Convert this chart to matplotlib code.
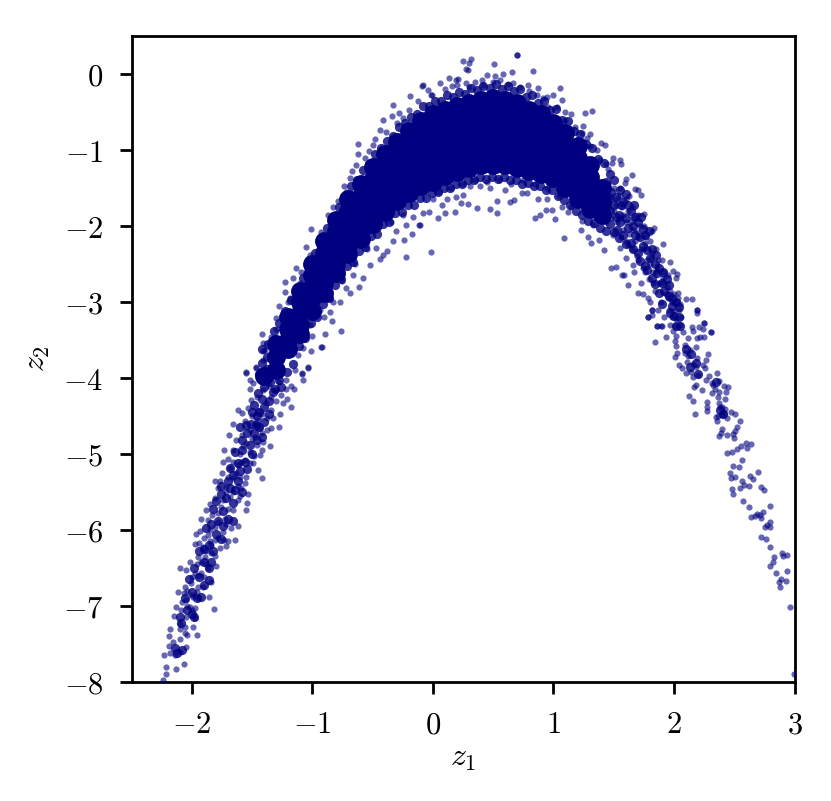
import numpy as np
import matplotlib
matplotlib.use('Agg')
import matplotlib.pyplot as plt

plt.rcParams['mathtext.fontset'] = 'cm'
plt.rcParams['font.size'] = 11

x_ticks = [-2, -1, 0, 1, 2, 3]
y_ticks = [0, -1, -2, -3, -4, -5, -6, -7, -8]

# solid middle of the band, read per z1 column
core_z1 = [-1.4, -1.3, -1.2, -1.1, -1.0, -0.9, -0.8, -0.7, -0.6, -0.5, -0.4, -0.3, -0.2, -0.1,
           0.0, 0.1, 0.2, 0.3, 0.4, 0.5, 0.6, 0.7, 0.8, 0.9, 1.0, 1.1, 1.2, 1.3, 1.4]
core_z2 = [
    [-3.98],
    [-3.55, -3.72, -3.9],
    [-3.2, -3.35, -3.5, -3.62],
    [-2.85, -3.0, -3.15, -3.3, -3.42],
    [-2.5, -2.65, -2.8, -2.95, -3.12],
    [-2.2, -2.35, -2.5, -2.65, -2.75, -2.88],
    [-1.92, -2.07, -2.22, -2.37, -2.5, -2.62],
    [-1.65, -1.8, -1.95, -2.1, -2.25, -2.37],
    [-1.45, -1.6, -1.75, -1.9, -2.05, -2.17],
    [-1.23, -1.38, -1.53, -1.68, -1.83, -1.97],
    [-1.05, -1.2, -1.35, -1.5, -1.65, -1.82],
    [-0.9, -1.05, -1.2, -1.35, -1.5, -1.67],
    [-0.75, -0.9, -1.05, -1.2, -1.35, -1.5, -1.57],
    [-0.62, -0.77, -0.92, -1.07, -1.22, -1.37, -1.47],
    [-0.52, -0.67, -0.82, -0.97, -1.12, -1.27, -1.42],
    [-0.47, -0.62, -0.77, -0.92, -1.07, -1.22, -1.34],
    [-0.42, -0.57, -0.72, -0.87, -1.02, -1.17, -1.29],
    [-0.38, -0.53, -0.68, -0.83, -0.98, -1.13, -1.24],
    [-0.34, -0.49, -0.64, -0.79, -0.94, -1.09, -1.2],
    [-0.32, -0.47, -0.62, -0.77, -0.92, -1.07, -1.2],
    [-0.34, -0.49, -0.64, -0.79, -0.94, -1.09, -1.2],
    [-0.38, -0.53, -0.68, -0.83, -0.98, -1.13, -1.24],
    [-0.47, -0.62, -0.77, -0.92, -1.07, -1.22, -1.27],
    [-0.53, -0.68, -0.83, -0.98, -1.13, -1.25, -1.32],
    [-0.65, -0.8, -0.95, -1.1, -1.25, -1.37],
    [-0.78, -0.93, -1.08, -1.23, -1.38, -1.5],
    [-0.95, -1.1, -1.25, -1.4, -1.55, -1.64],
    [-1.2, -1.35, -1.5, -1.62, -1.77],
    [-1.5, -1.68, -1.85],
]

# mottled edge of the solid part and the thicker runs of the tails
edge_band = [
    (-1.42, -3.62), (-1.37, -3.55), (-1.32, -3.38), (-1.28, -3.28), (-1.23, -3.12), (-1.18, -2.98),
    (-1.13, -2.82), (-1.08, -2.68), (-1.03, -2.45), (-0.98, -2.35), (-0.93, -2.18), (-0.88, -2.02),
    (-0.83, -1.88), (-0.78, -1.75), (-0.73, -1.6), (-0.68, -1.48), (-0.63, -1.4), (-0.58, -1.26),
    (-0.53, -1.18), (-0.48, -1.05), (-0.43, -0.98), (-0.38, -0.88), (-0.33, -0.82), (-0.28, -0.7),
    (-0.23, -0.65), (-0.18, -0.56), (-0.13, -0.52), (-0.08, -0.42), (-0.03, -0.42), (0.02, -0.35),
    (0.07, -0.35), (0.12, -0.28), (0.17, -0.3), (0.22, -0.24), (0.27, -0.26), (0.32, -0.19),
    (0.37, -0.21), (0.42, -0.16), (0.47, -0.18), (0.52, -0.13), (0.57, -0.2), (0.62, -0.16),
    (0.67, -0.23), (0.72, -0.2), (0.77, -0.3), (0.82, -0.28), (0.87, -0.38), (0.92, -0.36),
    (0.97, -0.48), (1.02, -0.46), (1.07, -0.6), (1.12, -0.62), (1.17, -0.75), (1.22, -0.79),
    (1.27, -0.92), (1.32, -0.98), (1.37, -1.12), (1.42, -1.17), (1.47, -1.32),
    (-1.42, -4.28), (-1.36, -4.3), (-1.31, -4.15), (-1.26, -4.12), (-1.21, -3.92), (-1.16, -3.82),
    (-1.11, -3.58), (-1.06, -3.48), (-1.01, -3.28), (-0.96, -3.2), (-0.91, -3.02), (-0.86, -2.95),
    (-0.81, -2.78), (-0.76, -2.7), (-0.71, -2.52), (-0.66, -2.47), (-0.61, -2.33), (-0.56, -2.28),
    (-0.51, -2.13), (-0.46, -2.1), (-0.41, -1.98), (-0.36, -1.95), (-0.31, -1.83), (-0.26, -1.82),
    (-0.21, -1.73), (-0.16, -1.72), (-0.11, -1.63), (-0.06, -1.63), (-0.01, -1.57), (0.04, -1.55),
    (0.09, -1.5), (0.14, -1.5), (0.19, -1.45), (0.24, -1.45), (0.29, -1.4), (0.34, -1.4),
    (0.39, -1.36), (0.44, -1.38), (0.49, -1.36), (0.54, -1.38), (0.59, -1.36), (0.64, -1.4),
    (0.69, -1.4), (0.74, -1.45), (0.79, -1.43), (0.84, -1.48), (0.89, -1.48), (0.94, -1.52),
    (0.99, -1.53), (1.04, -1.6), (1.09, -1.66), (1.14, -1.72), (1.19, -1.8), (1.24, -1.85),
    (1.29, -1.93), (1.34, -1.96), (1.39, -2.03), (1.44, -2.07),
    (-1.5, -4.45), (-1.46, -4.5), (-1.44, -4.65), (-1.48, -4.72), (-1.54, -4.72), (-1.52, -4.88),
    (-1.58, -4.95), (-1.56, -5.1), (-1.62, -5.12), (-1.66, -5.28), (-1.62, -5.36), (-1.68, -5.45),
    (-1.72, -5.58), (-1.66, -5.65), (-1.74, -5.75), (-1.78, -5.88), (-1.74, -5.95), (-1.8, -6.05),
    (-1.86, -6.2), (-1.82, -6.28), (-1.9, -6.42), (-1.86, -6.5), (-1.94, -6.62), (-1.9, -6.72),
    (-2.0, -6.82), (-1.96, -6.9), (-2.04, -7.05), (-2.0, -7.1), (-2.09, -7.22), (-2.08, -7.58),
    (-2.12, -7.62),
    (1.48, -1.55), (1.47, -1.8), (1.52, -1.62), (1.54, -1.85), (1.53, -2.05), (1.58, -1.68),
    (1.6, -1.9), (1.58, -2.12), (1.64, -1.8), (1.66, -2.0), (1.64, -2.22), (1.7, -1.95),
    (1.72, -2.15), (1.7, -2.35), (1.76, -2.12), (1.78, -2.32), (1.76, -2.52), (1.82, -2.3),
    (1.84, -2.5), (1.82, -2.68), (1.88, -2.55), (1.9, -2.75), (1.88, -2.88), (1.94, -2.7),
    (1.96, -2.92), (1.98, -3.05), (2.02, -3.0), (2.0, -3.18), (2.04, -3.2), (2.02, -3.32),
    (2.1, -3.62), (2.14, -3.68), (2.13, -3.85), (2.18, -3.8), (2.2, -3.95), (2.35, -4.05),
    (2.38, -4.42), (2.41, -4.48),
    # ends of the solid part, thinning out
    (-1.42, -3.8), (-1.38, -3.72), (-1.44, -3.95), (-1.38, -3.88), (-1.34, -3.72), (-1.4, -4.12),
    (-1.35, -4.05), (-1.45, -4.2), (-1.33, -4.18), (-1.28, -4.02), (-1.48, -4.35), (-1.4, -4.38),
    (-1.44, -4.45), (-1.36, -4.48), (-1.4, -4.58), (-1.47, -4.62), (-1.51, -4.6), (-1.42, -4.78),
    (-1.46, -4.82), (-1.5, -5.0), (-1.55, -4.62), (-1.58, -4.82), (-1.6, -4.65), (-1.54, -5.2),
    (-1.6, -5.22), (-1.64, -4.98), (-1.68, -5.18), (-1.7, -5.35), (-1.64, -5.48), (-1.58, -5.5),
    (-1.76, -5.42), (-1.8, -5.62), (-1.76, -5.52), (-1.7, -5.85), (-1.66, -5.88), (-1.82, -5.72),
    (-1.84, -5.92), (-1.88, -5.98), (-1.76, -6.12), (-1.9, -6.25), (-1.94, -6.28), (-1.84, -6.42),
    (-1.98, -6.5), (-1.86, -6.66), (-2.02, -6.65), (-2.06, -6.9), (-1.92, -6.88), (-1.98, -7.15),
    (-2.1, -7.15), (-2.14, -7.55), (1.4, -1.75), (1.42, -1.58), (1.44, -1.42), (1.46, -1.65),
    (1.43, -1.88), (1.47, -1.98), (1.5, -1.4), (1.5, -1.72), (1.52, -1.88), (1.5, -2.08),
    (1.55, -1.52), (1.56, -1.72), (1.55, -1.95), (1.54, -2.16), (1.6, -1.58), (1.62, -1.72),
    (1.62, -2.02), (1.6, -2.24), (1.67, -1.72), (1.68, -1.88), (1.68, -2.12), (1.66, -2.3),
    (1.73, -1.88), (1.74, -2.04), (1.74, -2.26), (1.72, -2.46), (1.79, -2.06), (1.8, -2.42),
    (1.78, -2.58), (1.85, -2.38), (1.86, -2.62), (1.84, -2.76), (1.91, -2.6), (1.92, -2.85),
    (1.9, -3.02), (1.96, -2.78), (1.98, -2.95), (2.04, -3.06), (1.97, -3.15), (2.05, -3.32),
]

# single points along the rims and tails
right_tail = [
    (2.96, -7.01), (2.993, -7.89), (2.88, -6.75), (2.869, -6.68), (2.89, -6.64), (2.93, -6.67),
    (2.844, -6.56), (2.935, -6.54), (2.80, -6.48), (2.82, -6.42), (2.827, -6.36), (2.894, -6.30),
    (2.907, -6.34), (2.94, -6.33), (2.80, -6.23), (2.76, -6.12), (2.725, -6.09), (2.797, -5.96),
    (2.758, -5.96), (2.775, -5.94), (2.794, -5.89), (2.636, -5.83), (2.67, -5.81), (2.692, -5.785),
    (2.722, -5.84), (2.716, -5.80), (2.74, -5.76), (2.622, -5.70), (2.80, -5.68), (2.57, -5.62),
    (2.49, -5.52), (2.479, -5.465), (2.747, -5.48), (2.722, -5.44), (2.62, -5.42), (2.548, -5.45),
    (2.567, -5.36), (2.58, -5.41), (2.653, -5.325), (2.634, -5.29), (2.697, -5.24), (2.465, -5.25),
    (2.47, -5.31), (2.509, -5.30), (2.49, -5.16), (2.54, -5.17), (2.565, -5.075), (2.437, -4.99),
    (2.484, -4.97), (2.526, -4.93), (2.556, -4.89), (2.60, -4.86), (2.61, -4.92), (2.636, -4.87),
    (2.37, -4.76), (2.387, -4.72), (2.40, -4.67), (2.44, -4.75), (2.498, -4.795), (2.49, -4.74),
    (2.509, -4.70), (2.523, -4.64), (2.545, -4.57), (2.504, -4.48), (2.473, -4.45), (2.354, -4.56),
    (2.346, -4.51), (2.368, -4.50), (2.396, -4.49), (2.418, -4.465), (2.44, -4.52), (2.426, -4.41),
    (2.398, -4.38), (2.37, -4.33), (2.379, -4.38), (2.42, -4.28), (2.368, -4.255), (2.37, -4.19),
    (2.313, -4.20), (2.277, -4.31), (2.277, -4.38), (2.277, -4.43), (2.177, -4.48), (2.16, -4.30),
    (2.125, -4.24), (2.235, -4.16), (2.166, -4.115), (2.185, -4.09), (2.34, -4.15), (2.415, -4.11),
    (2.448, -4.12), (2.429, -4.19), (2.327, -4.09), (2.37, -4.035), (2.354, -3.94), (2.313, -4.07),
    (2.293, -3.98), (2.266, -4.02), (2.2, -3.96), (2.16, -3.99), (2.097, -3.94), (2.14, -3.92),
    (2.26, -3.865), (2.238, -3.83), (2.268, -3.76), (2.28, -3.68), (2.04, -3.83), (2.07, -3.87),
    (2.18, -3.86), (2.105, -3.785), (2.16, -3.81), (2.188, -3.74), (2.01, -3.72), (2.028, -3.676),
    (2.09, -3.676), (2.119, -3.71), (2.133, -3.63), (2.183, -3.59), (2.09, -3.57), (2.017, -3.58),
    (1.84, -3.53), (1.93, -3.456), (2.008, -3.51), (2.02, -3.45), (2.072, -3.40), (2.12, -3.48),
    (2.188, -3.48), (2.22, -3.456), (2.25, -3.456), (2.307, -3.40), (2.24, -3.36), (2.21, -3.33),
    (2.25, -3.27), (2.147, -3.325), (2.16, -3.38), (2.188, -3.15), (2.19, -3.105), (1.862, -3.31),
    (1.895, -3.31), (1.784, -3.2), (1.818, -3.17), (1.818, -3.105),
    (1.97, -2.85), (2.0, -2.9), (2.03, -2.88), (1.98, -3.0), (2.02, -3.0), (2.05, -3.02),
    (1.96, -3.1), (2.0, -3.12), (2.04, -3.1), (1.98, -3.2), (2.02, -3.22), (2.06, -3.2),
    (1.97, -3.3), (2.01, -3.32), (2.05, -3.3), (1.99, -3.38), (2.03, -2.95), (1.95, -2.95),
]

top_rim = [
    (0.694, 0.245), (0.70, 0.245), (0.249, 0.175), (0.318, 0.197), (0.301, 0.14), (0.279, 0.06),
    (0.293, 0.05), (0.509, 0.127), (0.658, 0.022), (0.83, 0.044), (0.581, 0.0), (0.45, -0.013),
    (0.512, -0.02), (0.133, -0.057), (0.21, -0.07), (0.188, -0.075), (-0.089, -0.154), (-0.188, -0.29),
    (1.057, -0.19), (0.874, -0.19), (0.996, -0.28), (1.073, -0.34), (1.15, -0.52), (1.261, -0.51),
    (1.32, -0.49), (1.247, -0.69), (1.30, -0.79), (1.394, -0.91), (1.43, -0.94), (1.496, -1.11),
    (1.55, -1.13), (1.557, -1.19), (1.488, -1.17), (1.438, -1.18), (1.651, -1.33), (1.60, -1.38),
    (1.593, -1.43), (1.676, -1.51), (1.70, -1.53), (1.729, -1.59), (1.75, -1.84), (1.834, -2.03),
    (1.82, -2.07), (1.91, -2.24), (1.967, -2.48), (1.989, -2.59), (2.025, -2.63), (2.02, -2.69),
    (2.102, -2.965), (2.149, -2.965), (2.188, -3.105), (2.25, -3.27), (2.307, -3.40),
    (0.063, -0.123), (-0.039, -0.21), (-0.011, -0.276), (0.155, -0.154), (0.279, -0.114),
    (0.348, -0.10), (0.404, -0.079), (0.556, -0.079), (0.667, -0.123), (0.791, -0.145), (0.86, -0.276),
    (0.915, -0.32), (0.957, -0.43), (1.026, -0.43), (1.095, -0.496), (1.234, -0.78), (1.275, -0.847),
    (1.358, -1.0), (1.386, -1.13), (0.1, -0.2), (0.2, -0.15), (0.3, -0.17), (0.42, -0.15), (0.5, -0.1),
    (0.62, -0.13), (0.72, -0.17), (0.8, -0.22), (0.95, -0.3), (1.1, -0.6), (1.18, -0.7), (1.3, -0.95),
    (1.45, -1.25), (1.55, -1.5), (1.63, -1.6),
]

left_rim = [
    (-0.33, -0.41), (-0.413, -0.60), (-0.338, -0.557), (-0.277, -0.513), (-0.44, -0.74), (-0.617, -0.92),
    (-0.617, -1.05), (-0.529, -1.01), (-0.67, -1.27), (-0.734, -1.48), (-0.869, -1.855), (-1.01, -2.04),
    (-1.049, -2.27), (-1.132, -2.55), (-1.223, -2.74), (-1.229, -2.87), (-1.278, -3.05), (-1.417, -3.42),
    (-1.408, -3.54), (-1.47, -3.86), (-1.55, -3.92), (-0.634, -1.2), (-0.689, -1.37), (-0.786, -1.67),
    (-0.924, -2.08), (-1.021, -2.38), (-1.09, -2.6), (-1.16, -2.69), (-1.187, -2.95), (-1.298, -3.215),
    (-1.339, -3.46), (-1.395, -3.63), (-0.496, -0.934), (-0.385, -0.76), (-0.247, -0.58), (-0.081, -0.145),
    (-0.012, -0.276), (-0.2, -0.48), (-0.12, -0.35), (-0.3, -0.65), (-0.48, -0.85), (-0.56, -1.1),
    (-0.72, -1.55), (-0.83, -1.75), (-0.95, -2.2), (-1.1, -2.75), (-1.2, -3.0), (-1.3, -3.35),
]

under_rim = [
    (-0.238, -2.19), (-0.221, -2.41), (-0.014, -2.34), (-0.169, -2.105), (-0.111, -1.99), (0.044, -1.90),
    (0.097, -1.825), (0.185, -1.81), (0.232, -1.70), (0.288, -1.71), (0.365, -1.76), (0.476, -1.77),
    (0.534, -1.83), (0.534, -1.67), (0.639, -1.68), (0.672, -1.66), (0.849, -1.90), (0.888, -1.855),
    (0.935, -1.79), (0.99, -1.785), (1.01, -1.91), (1.087, -2.16), (1.228, -2.05), (1.289, -2.15),
    (1.314, -2.22), (1.38, -2.19), (1.419, -2.32), (1.474, -2.557), (1.521, -2.535), (1.565, -2.64),
    (1.585, -2.64), (1.621, -2.78), (1.70, -2.88), (1.745, -2.90), (1.784, -3.2), (1.82, -3.105),
    (1.859, -3.31), (1.897, -3.315), (-0.08, -1.83), (-0.033, -1.81), (0.077, -1.72), (0.12, -1.64),
    (0.188, -1.62), (0.246, -1.59), (0.31, -1.48), (0.39, -1.48), (0.473, -1.505), (0.597, -1.53),
    (0.736, -1.56), (0.777, -1.57), (0.874, -1.64), (0.943, -1.64), (1.068, -1.75), (1.123, -1.81),
    (1.234, -1.94), (1.33, -1.99), (1.497, -2.12), (1.55, -2.29), (1.662, -2.51), (1.787, -2.95),
    (-0.33, -2.2), (-0.413, -2.38), (-0.38, -2.33), (-0.44, -2.43), (-0.523, -2.51), (-0.579, -2.69),
    (-0.612, -2.80), (-0.684, -2.886), (-0.717, -2.82), (-0.759, -3.38), (-0.833, -3.25), (-0.897, -3.42),
    (-0.924, -3.59), (-1.035, -3.86), (-1.082, -3.94), (-0.772, -2.995), (-0.855, -3.13), (-0.108, -1.99),
    (-0.164, -1.88), (-0.219, -1.99), (-0.302, -2.07), (-0.468, -2.29), (-0.662, -2.645), (-0.828, -2.995),
    (0.0, -1.65), (0.05, -1.55), (0.15, -1.5), (0.25, -1.45), (0.35, -1.4), (0.45, -1.42), (0.55, -1.4),
    (0.65, -1.45), (0.75, -1.4), (0.85, -1.45), (0.95, -1.5), (1.05, -1.6), (1.15, -1.75), (-0.25, -1.85),
    (-0.35, -1.95), (-0.55, -2.3), (-0.65, -2.5), (-0.75, -2.72), (-0.85, -2.95), (-0.95, -3.15),
]

# the looser stretch right of the core
right_band = [
    (1.45, -1.45), (1.47, -1.6), (1.46, -1.75), (1.5, -1.5), (1.52, -1.65), (1.5, -1.8), (1.53, -1.95),
    (1.48, -1.9), (1.55, -1.6), (1.57, -1.75), (1.55, -1.9), (1.58, -2.05), (1.6, -1.65), (1.62, -1.8),
    (1.6, -1.95), (1.63, -2.1), (1.6, -2.2), (1.65, -1.75), (1.67, -1.9), (1.66, -2.05), (1.68, -2.2),
    (1.65, -2.3), (1.7, -1.85), (1.72, -2.0), (1.7, -2.15), (1.73, -2.3), (1.69, -2.4), (1.75, -2.0),
    (1.77, -2.15), (1.75, -2.3), (1.78, -2.45), (1.74, -2.55), (1.8, -2.2), (1.82, -2.35), (1.8, -2.5),
    (1.83, -2.6), (1.79, -2.7), (1.85, -2.3), (1.87, -2.45), (1.85, -2.6), (1.88, -2.75), (1.84, -2.85),
    (1.9, -2.45), (1.92, -2.6), (1.9, -2.75), (1.93, -2.9), (1.89, -3.0), (1.95, -2.65), (1.94, -2.8),
    (1.52, -1.72), (1.58, -1.85), (1.64, -1.95), (1.69, -2.08), (1.76, -2.22), (1.81, -2.42), (1.86, -2.52),
    (1.91, -2.68), (1.62, -2.25), (1.7, -2.45), (1.76, -2.6), (1.83, -2.75), (1.44, -1.95), (1.42, -1.9),
    (1.56, -2.15), (1.6, -2.42), (1.67, -2.6), (1.73, -2.75), (1.8, -3.0), (1.87, -3.1), (1.92, -3.2),
]

left_band = [
    (-2.238, -7.98), (-2.216, -7.89), (-2.133, -7.83), (-2.064, -7.76), (-2.216, -7.80), (-2.23, -7.65),
    (-2.178, -7.62), (-2.142, -7.64), (-2.1, -7.60), (-2.05, -7.54), (-2.189, -7.53), (-2.155, -7.47),
    (-2.191, -7.39), (-2.18, -7.30), (-2.1, -7.43), (-2.04, -7.38), (-1.956, -7.38), (-1.99, -7.27),
    (-2.1, -7.24), (-2.059, -7.27), (-2.144, -7.13), (-2.045, -7.14), (-1.976, -7.16), (-1.812, -7.04),
    (-2.128, -7.01), (-2.086, -7.05), (-2.017, -7.01), (-1.948, -6.90), (-1.857, -6.88), (-2.114, -6.81),
    (-2.045, -6.92), (-2.064, -6.83), (-1.99, -6.88), (-2.059, -6.75), (-2.003, -6.70), (-1.948, -6.75),
    (-1.906, -6.75), (-1.843, -6.69), (-2.1, -6.50), (-2.05, -6.53), (-2.012, -6.42), (-1.976, -6.57),
    (-1.92, -6.57), (-1.865, -6.50), (-1.8, -6.48), (-1.948, -6.35), (-1.893, -6.35), (-1.81, -6.34),
    (-1.976, -6.19), (-1.942, -6.17), (-1.906, -6.22), (-1.837, -6.20), (-1.768, -6.24), (-1.962, -6.05),
    (-1.934, -6.01), (-1.865, -6.07), (-1.81, -6.13), (-1.718, -6.21), (-1.699, -6.15), (-1.641, -6.13),
    (-1.732, -6.13), (-1.865, -5.87), (-1.923, -5.85), (-1.81, -5.96), (-1.74, -6.02), (-1.671, -5.98),
    (-1.62, -5.95), (-1.884, -5.74), (-1.851, -5.66), (-1.782, -5.78), (-1.727, -5.85), (-1.657, -5.74),
    (-1.81, -5.58), (-1.74, -5.61), (-1.685, -5.56), (-1.616, -5.61), (-1.55, -5.74), (-1.544, -5.645),
    (-1.53, -5.53), (-1.81, -5.35), (-1.768, -5.36), (-1.713, -5.43), (-1.588, -5.45), (-1.732, -4.95),
    (-1.7, -5.06), (-1.74, -5.11), (-1.685, -5.19), (-1.63, -5.25), (-1.547, -5.30), (-1.453, -5.21),
    (-1.42, -5.32), (-1.492, -5.12), (-1.436, -5.01), (-1.693, -4.75), (-1.63, -4.82), (-1.657, -4.95),
    (-1.574, -4.90), (-1.588, -5.10), (-1.353, -4.89), (-1.409, -4.84), (-1.478, -4.77), (-1.657, -4.605),
    (-1.56, -4.57), (-1.613, -4.425), (-1.583, -4.456), (-1.276, -4.65), (-1.339, -4.66), (-1.519, -4.68),
    (-1.436, -4.66), (-1.27, -4.47), (-1.326, -4.53), (-1.179, -4.38), (-1.505, -4.29), (-1.533, -4.40),
    (-1.45, -4.44), (-1.381, -4.33), (-1.242, -4.33), (-1.209, -4.27), (-1.516, -4.15), (-1.491, -4.07),
    (-1.55, -3.93), (-1.47, -3.87), (-1.514, -4.03), (-1.409, -4.16), (-1.298, -4.16), (-1.151, -4.14),
    (-1.077, -4.02), (-1.082, -3.95), (-1.409, -3.76), (-1.409, -3.65), (-1.326, -3.94), (-1.215, -4.03),
    (-1.035, -3.87), (-0.919, -3.59), (-1.007, -3.65),
    (-1.5, -4.5), (-1.46, -4.55), (-1.42, -4.48), (-1.38, -4.52), (-1.34, -4.42), (-1.47, -4.62),
    (-1.42, -4.72), (-1.38, -4.68), (-1.5, -4.8), (-1.46, -4.88), (-1.42, -4.95), (-1.55, -4.85),
    (-1.52, -4.98), (-1.48, -5.02), (-1.58, -4.75), (-1.6, -5.0), (-1.56, -5.08), (-1.62, -5.15),
    (-1.52, -5.12), (-1.66, -5.1), (-1.6, -5.3), (-1.56, -5.38), (-1.66, -5.32), (-1.7, -5.3),
    (-1.62, -5.42), (-1.75, -5.25), (-1.72, -5.5), (-1.66, -5.5), (-1.6, -5.55), (-1.78, -5.45),
    (-1.76, -5.7), (-1.7, -5.72), (-1.83, -5.8), (-1.78, -5.9), (-1.72, -5.92), (-1.85, -6.0),
    (-1.9, -6.1), (-1.85, -6.15), (-1.78, -6.1), (-1.88, -6.28), (-1.84, -6.3), (-1.96, -6.45),
    (-1.92, -6.42), (-1.88, -6.45), (-2.0, -6.62), (-1.95, -6.6), (-1.9, -6.62), (-2.04, -6.8),
    (-2.0, -6.85), (-1.96, -6.82), (-2.08, -6.95), (-2.04, -7.0), (-2.0, -7.05), (-1.97, -7.02),
    (-2.1, -7.3), (-2.06, -7.35), (-1.3, -4.3), (-1.26, -4.22), (-1.22, -4.15), (-1.18, -4.1),
    (-1.34, -4.25), (-1.46, -4.25), (-1.36, -4.1), (-1.28, -4.05), (-1.44, -4.0), (-1.14, -3.9),
    (-1.12, -3.7), (-1.08, -3.6), (-1.02, -3.3), (-1.0, -3.45), (-0.94, -3.1), (-0.9, -3.2),
]


def main():
    fig = plt.figure(figsize=(831 / 200, 801 / 200), dpi=200)
    ax = fig.add_axes([131.5 / 831, 1 - 682 / 801, 663 / 831, 646 / 801])

    cx = [z1 for z1, col in zip(core_z1, core_z2) for _ in col]
    cy = [z2 for col in core_z2 for z2 in col]
    ax.scatter(cx, cy, s=46, color='navy', linewidths=0, zorder=2)

    arr = np.array(edge_band)
    ax.scatter(arr[:, 0], arr[:, 1], s=11, color='navy', alpha=0.8, linewidths=0, zorder=2)

    for pts in (right_tail, top_rim, left_rim, under_rim, right_band, left_band):
        arr = np.array(pts)
        ax.scatter(arr[:, 0], arr[:, 1], s=5, color='navy', alpha=0.6, linewidths=0, zorder=3)

    ax.set_xlim(-2.5, 3)
    ax.set_ylim(-8, 0.5)
    ax.set_xticks(x_ticks)
    ax.set_xticklabels([f'${v}$' for v in x_ticks])
    ax.set_yticks(y_ticks)
    ax.set_yticklabels([f'${v}$' for v in y_ticks])
    ax.set_xlabel('$z_1$', labelpad=1, fontsize=11.5)
    ax.set_ylabel('$z_2$', labelpad=4, fontsize=11.5)
    for spine in ax.spines.values():
        spine.set_linewidth(1.0)
    ax.tick_params(width=1.0, length=4.2, pad=6)

    fig.savefig('out.png', dpi=200)


if __name__ == '__main__':
    main()
